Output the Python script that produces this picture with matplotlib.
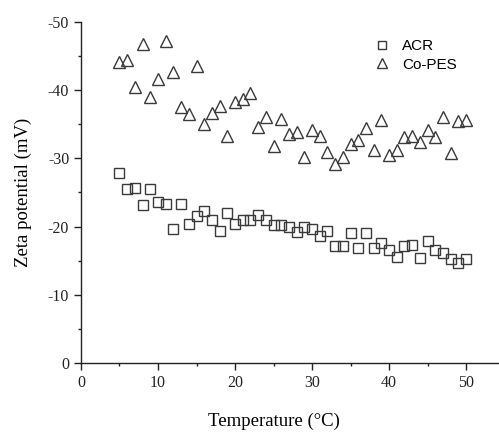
import matplotlib
matplotlib.use("Agg")
import matplotlib.pyplot as plt
from matplotlib.ticker import MultipleLocator

plt.rcParams["axes.unicode_minus"] = False

temps = list(range(5, 51))
acr = [-27.8, -25.5, -25.6, -23.2, -25.5, -23.6, -23.3, -19.7, -23.3, -20.4,
       -21.5, -22.3, -20.9, -19.4, -22.0, -20.4, -21.0, -20.9, -21.7, -20.9,
       -20.2, -20.2, -20.0, -19.2, -19.9, -19.6, -18.6, -19.3, -17.1, -17.2,
       -19.1, -16.8, -19.1, -16.8, -17.6, -16.5, -15.6, -17.2, -17.3, -15.4,
       -17.9, -16.5, -16.1, -15.3, -14.7, -15.2]
copes = [-44.2, -44.4, -40.5, -46.8, -39.0, -41.7, -47.2, -42.6, -37.6, -36.5,
         -43.5, -35.0, -36.6, -37.7, -33.3, -38.3, -38.7, -39.6, -34.6, -36.1,
         -31.8, -35.8, -33.6, -33.8, -30.2, -34.2, -33.3, -31.0, -29.2, -30.2,
         -32.1, -32.7, -34.4, -31.2, -35.7, -30.5, -31.2, -33.2, -33.3, -32.4,
         -34.2, -33.2, -36.0, -30.8, -35.5, -35.6]

fig = plt.figure(figsize=(4.99, 4.33), dpi=100)
ax = fig.add_axes([0.1623, 0.1617, 0.838, 0.7875])

mk = dict(linestyle="none", markerfacecolor="none", markeredgecolor="#3a3a3a",
          markeredgewidth=1.0)
ax.plot(temps, acr, marker="s", markersize=7.5, label="ACR", **mk)
ax.plot(temps, copes, marker="^", markersize=9, label="Co-PES", **mk)

ax.set_xlim(0, 54.3)
ax.set_ylim(0, -50)
ax.xaxis.set_major_locator(MultipleLocator(10))
ax.xaxis.set_minor_locator(MultipleLocator(5))
ax.yaxis.set_major_locator(MultipleLocator(10))
ax.yaxis.set_minor_locator(MultipleLocator(5))
for s in ["top", "right"]:
    ax.spines[s].set_visible(False)
for s in ["left", "bottom"]:
    ax.spines[s].set_color("#222222")
    ax.spines[s].set_linewidth(1.0)
ax.tick_params(which="major", direction="out", length=5, width=1, colors="#222222",
               labelsize=11.5)
ax.tick_params(which="minor", direction="out", length=2.5, width=1, colors="#222222")
for lab in ax.get_xticklabels() + ax.get_yticklabels():
    lab.set_fontfamily("Liberation Serif")

ax.set_xlabel("Temperature (°C)", fontfamily="Liberation Serif", fontsize=13.5)
ax.xaxis.set_label_coords(25 / 54.3, -0.145)
ax.set_ylabel("Zeta potential (mV)", fontfamily="Liberation Serif", fontsize=13.5)
ax.yaxis.set_label_coords(-0.118, 0.5)

leg = ax.legend(loc="upper left", bbox_to_anchor=(0.651, 0.99), frameon=False,
                prop={"family": "Liberation Sans", "size": 11}, handletextpad=0.3,
                labelspacing=0.3, markerscale=0.8)

fig.savefig("out.png", dpi=100)
